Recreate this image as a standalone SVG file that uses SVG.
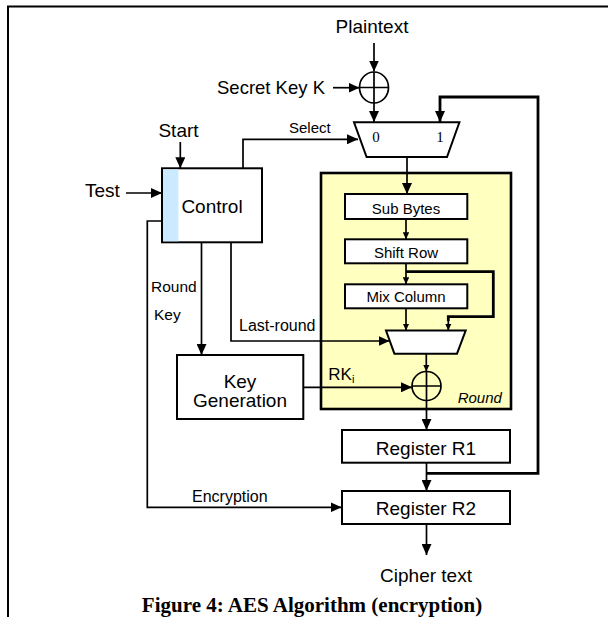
<svg xmlns="http://www.w3.org/2000/svg" width="608" height="617" viewBox="0 0 608 617">
<style>
.t{font-family:"Liberation Sans",Arial,sans-serif;fill:#000}
.big{font-size:19px}
.sm{font-size:15.5px}
.box{fill:#fff;stroke:#000;stroke-width:2}
.ln{fill:none;stroke:#000;stroke-width:1.7}
.thk{fill:none;stroke:#000;stroke-width:2.8}
.mx{font-family:"Liberation Serif","Times New Roman",serif;font-size:15px}
</style>
<defs>
<marker id="ah" viewBox="0 0 11 10" refX="11" refY="5" markerWidth="11" markerHeight="10" markerUnits="userSpaceOnUse" orient="auto"><path d="M0,0L11,5L0,10z" fill="#000"/></marker>
<marker id="as" viewBox="0 0 7 6.5" refX="7" refY="3.25" markerWidth="7" markerHeight="6.5" markerUnits="userSpaceOnUse" orient="auto"><path d="M0,0L7,3.25L0,6.5z" fill="#000"/></marker>
</defs>
<rect width="608" height="617" fill="#fff"/>
<path d="M8,617V6.4H608" fill="none" stroke="#000" stroke-width="2"/>

<g id="round">
<rect x="321" y="173" width="190" height="236" fill="#FFFFC0" stroke="#000" stroke-width="2.6"/>
<text class="t" x="457.7" y="403" font-size="15" font-style="italic">Round</text>
</g>

<g id="connectors">
<path class="ln" d="M374,43V71.5" marker-end="url(#ah)"/>
<path class="ln" d="M333,87.7H359.5" marker-end="url(#ah)"/>
<path class="ln" d="M374,103V122" marker-end="url(#ah)"/>
<path class="thk" d="M426.5,473.3H538V97H440V122" marker-end="url(#ah)"/>
<path class="ln" d="M407,157V194" marker-end="url(#ah)"/>
<path class="ln" d="M180.3,142V168.3" marker-end="url(#ah)"/>
<path class="ln" d="M243,168.3V139.3H358" marker-end="url(#ah)"/>
<path class="ln" d="M126,193H162" marker-end="url(#ah)"/>
<path class="ln" d="M162,221H147.3V507.3H341.5" marker-end="url(#ah)"/>
<path class="ln" d="M201.5,242.3V355" marker-end="url(#ah)"/>
<path class="ln" d="M231,242.3V341H389.5" marker-end="url(#ah)"/>
<path class="ln" d="M406,219V239.3" marker-end="url(#as)"/>
<path class="ln" d="M406,263.3V284.3" marker-end="url(#as)"/>
<path class="ln" d="M406,308.3V330.5" marker-end="url(#as)"/>
<path class="thk" d="M406,271.7H493.3V316.7H448.3V321"/>
<path class="ln" d="M448.3,320V330.5" marker-end="url(#as)"/>
<path class="ln" d="M426.3,353.5V371.5" marker-end="url(#as)"/>
<path class="ln" d="M303.3,387.3H412" marker-end="url(#ah)"/>
<path class="ln" d="M426.5,400V430" marker-end="url(#ah)"/>
<path class="ln" d="M426.5,463V491" marker-end="url(#ah)"/>
<path class="ln" d="M426.5,524V555" marker-end="url(#ah)"/>
</g>

<g id="xor1">
<ellipse cx="374" cy="87.5" rx="14.5" ry="15.5" fill="none" stroke="#000" stroke-width="1.7"/>
<path d="M359.5,87.5H388.5M374,72V103" stroke="#000" stroke-width="1.7"/>
</g>

<g id="mux1">
<path d="M354,122.3H459.4L447,157H366.6Z" fill="#fff" stroke="#000" stroke-width="2"/>
<text class="mx" x="376" y="141.7" text-anchor="middle">0</text>
<text class="mx" x="440" y="141.7" text-anchor="middle">1</text>
</g>

<g id="control">
<rect class="box" x="162" y="168.3" width="100" height="74"/>
<rect x="163" y="169.3" width="15.4" height="72" fill="#CCEAFF"/>
<text class="t big" x="212" y="213.3" text-anchor="middle">Control</text>
</g>

<g id="subbytes">
<rect class="box" x="345" y="194" width="122.3" height="25"/>
<text class="t" x="406" y="214" font-size="15" text-anchor="middle">Sub Bytes</text>
</g>
<g id="shiftrow">
<rect class="box" x="345" y="239.3" width="122.3" height="24"/>
<text class="t" x="406" y="258.3" font-size="15" text-anchor="middle">Shift Row</text>
</g>
<g id="mixcolumn">
<rect class="box" x="345" y="284.3" width="122.3" height="24"/>
<text class="t" x="406" y="302.3" font-size="15" text-anchor="middle">Mix Column</text>
</g>

<g id="mux2">
<path d="M386,330.5H465.7L457,353.7H394.4Z" fill="#fff" stroke="#000" stroke-width="2"/>
</g>

<g id="xor2">
<circle cx="426.5" cy="386" r="14.5" fill="none" stroke="#000" stroke-width="1.7"/>
<path d="M412,386H441M426.5,371.5V400.5" stroke="#000" stroke-width="1.7"/>
</g>

<g id="keygen">
<rect class="box" x="177" y="355" width="126.3" height="64"/>
<text class="t big" x="240" y="387.7" text-anchor="middle">Key</text>
<text class="t big" x="240" y="406.7" text-anchor="middle">Generation</text>
</g>

<g id="r1">
<rect class="box" x="342" y="430" width="168" height="32.7"/>
<text class="t big" x="426" y="455" text-anchor="middle">Register R1</text>
</g>
<g id="r2">
<rect class="box" x="342" y="491" width="168" height="33"/>
<text class="t big" x="426" y="515" text-anchor="middle">Register R2</text>
</g>

<g id="labels">
<text class="t big" x="372" y="33.3" text-anchor="middle">Plaintext</text>
<text class="t" x="217" y="94.3" font-size="18.5">Secret Key K</text>
<text class="t big" x="178.5" y="136.7" text-anchor="middle">Start</text>
<text class="t" x="289" y="133.3" font-size="15">Select</text>
<text class="t big" x="85" y="196.5">Test</text>
<text class="t sm" x="151" y="291.7">Round</text>
<text class="t sm" x="154" y="320">Key</text>
<text class="t" x="239" y="330.7" font-size="16">Last-round</text>
<text class="t" x="328.3" y="380" font-size="17">RK<tspan font-size="11" dy="3">i</tspan></text>
<text class="t" x="192" y="501.7" font-size="16">Encryption</text>
<text class="t big" x="426" y="581.7" text-anchor="middle">Cipher text</text>
<text x="312" y="611.5" text-anchor="middle" font-family="'Liberation Serif','Times New Roman',serif" font-weight="bold" font-size="21">Figure 4: AES Algorithm (encryption)</text>
</g>
</svg>
